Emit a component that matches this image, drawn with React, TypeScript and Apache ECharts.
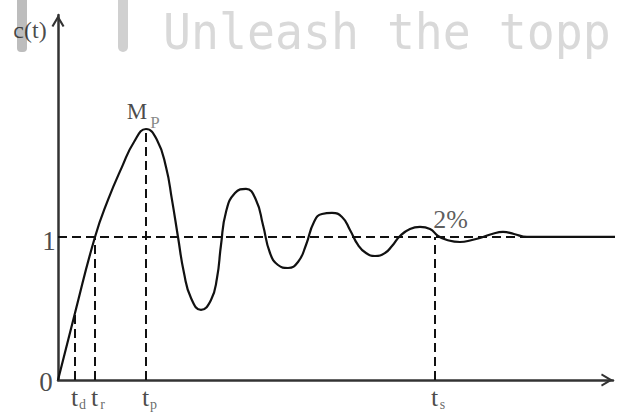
import React, { useEffect, useRef } from "react";
import * as echarts from "echarts";

// Step response c(t): [time, c]
const responseCurve: [number, number][] = [
  [0, 0], [1.7, 0.469], [3.7, 1.0], [5.0, 1.259], [6.4, 1.49], [7.6, 1.664], [8.8, 1.755],
  [9.9, 1.678], [10.8, 1.49], [11.4, 1.259], [12.0, 1.0], [12.6, 0.748], [13.3, 0.573],
  [14.3, 0.49], [15.3, 0.559], [15.9, 0.713], [16.3, 0.944], [16.8, 1.175], [17.7, 1.308],
  [18.8, 1.336], [19.8, 1.259], [20.5, 1.084], [21.2, 0.888], [22.0, 0.804], [23.0, 0.783],
  [24.0, 0.825], [24.8, 0.944], [25.6, 1.105], [26.4, 1.161], [27.4, 1.168], [28.4, 1.14],
  [29.2, 1.049], [30.0, 0.944], [30.8, 0.888], [31.7, 0.867], [32.7, 0.888], [33.4, 0.937],
  [34.2, 1.007], [35.2, 1.056], [36.2, 1.07], [37.2, 1.056], [38.0, 1.007], [38.9, 0.979],
  [40.2, 0.965], [41.4, 0.979], [42.5, 1.0], [43.4, 1.021], [44.5, 1.035], [45.6, 1.021],
  [46.9, 1.0], [48.7, 1.0], [56.3, 1.0],
];

const markNames = ["d", "r", "p", "s"];
const markTimes = [1.7, 3.7, 8.8, 37.7];
const markLevels = [0.469, 1.0, 1.755, 1.0];
const steadyValue = 1;
const referenceEnd = 46.9;
const peakTime = 8.8;
const peakValue = 1.755;
const timeMax = 55.5;
const valueMax = 2.552;
const yAxisName = "c(t)";
const bandText = "2%";
const watermarkText = "Unleash the topp";

const SERIF = '"Liberation Serif", "Times New Roman", serif';
const CHEVRON = "path://M6,0 L12,10.2 L10.3,11 L6,3.8 L1.7,11 L0,10.2 Z";

export default function App() {
  const ref = useRef<HTMLDivElement>(null);

  useEffect(() => {
    if (!ref.current) return;
    const chart = echarts.init(ref.current, undefined, { renderer: "svg" });

    const dashStyle = { color: "#111", width: 2, type: [9, 5] as number[] };
    const dashedSeries: any[] = markTimes.map((t, i) => ({
      type: "line",
      data: [[t, 0], [t, markLevels[i]]],
      showSymbol: false,
      symbol: "none",
      lineStyle: dashStyle,
      silent: true,
      z: 2,
    }));
    dashedSeries.push({
      type: "line",
      data: [[0, steadyValue], [referenceEnd, steadyValue]],
      showSymbol: false,
      symbol: "none",
      lineStyle: dashStyle,
      silent: true,
      z: 2,
    });

    const txt = (value: [number, number], text: string, offset: [number, number], fontSize: number, color = "#1a1a1a") => ({
      value,
      label: {
        show: true,
        formatter: text,
        position: offset,
        align: "center",
        verticalAlign: "middle",
        fontFamily: SERIF,
        fontSize,
        color,
      },
    });

    const labelData: any[] = [
      txt([0, 0], "0", [-11.5, 2.5], 27),
      txt([0, steadyValue], "1", [-8.5, 5], 27),
      txt([0, valueMax], yAxisName, [-27.5, 15], 24),
      txt([peakTime, peakValue], "M", [-8.5, -16.5], 23),
      txt([peakTime, peakValue], "P", [9.5, -5.5], 17, "#6a6a6a"),
      txt([markTimes[3], steadyValue], bandText, [16, -17], 26, "#333"),
    ];
    markTimes.forEach((t, i) => {
      labelData.push(txt([t, 0], "t", [0, 18], 26));
      labelData.push(txt([t, 0], markNames[i], [8, 24.5], 14, "#444"));
    });

    const axisLine = {
      show: true,
      onZero: false,
      lineStyle: { color: "#333", width: 2.5 },
      symbol: ["none", CHEVRON],
      symbolSize: [13, 12],
      symbolOffset: [0, -6],
    };

    chart.setOption({
      animation: false,
      grid: { left: 58, right: 8, top: 15, bottom: 32 },
      xAxis: {
        type: "value",
        min: 0,
        max: timeMax,
        axisLine,
        axisTick: { show: false },
        axisLabel: { show: false },
        splitLine: { show: false },
      },
      yAxis: {
        type: "value",
        min: 0,
        max: valueMax,
        axisLine,
        axisTick: { show: false },
        axisLabel: { show: false },
        splitLine: { show: false },
      },
      graphic: [
        { type: "rect", shape: { x: 17, y: -5, width: 10, height: 57, r: 4 }, style: { fill: "#bdbdbd" }, z: -10 },
        { type: "rect", shape: { x: 118, y: -5, width: 10, height: 57, r: 5 }, style: { fill: "#d0d0d0" }, z: -10 },
        {
          type: "text",
          x: 163,
          y: 31,
          scaleX: 0.93,
          z: -10,
          style: {
            text: watermarkText,
            font: '50px "DejaVu Sans Mono", monospace',
            fill: "#d9d9d9",
            verticalAlign: "middle",
          },
        },
      ],
      series: [
        ...dashedSeries,
        {
          type: "line",
          data: responseCurve,
          showSymbol: false,
          symbol: "none",
          smooth: 0.5,
          clip: false,
          lineStyle: { color: "#111", width: 2.2 },
          z: 3,
        },
        {
          type: "scatter",
          data: labelData,
          symbolSize: 1,
          itemStyle: { color: "transparent" },
          silent: true,
          z: 5,
        },
      ],
    });

    return () => chart.dispose();
  }, []);

  return <div ref={ref} style={{ width: 621, height: 412, position: "absolute", left: 0, top: 0 }} />;
}
